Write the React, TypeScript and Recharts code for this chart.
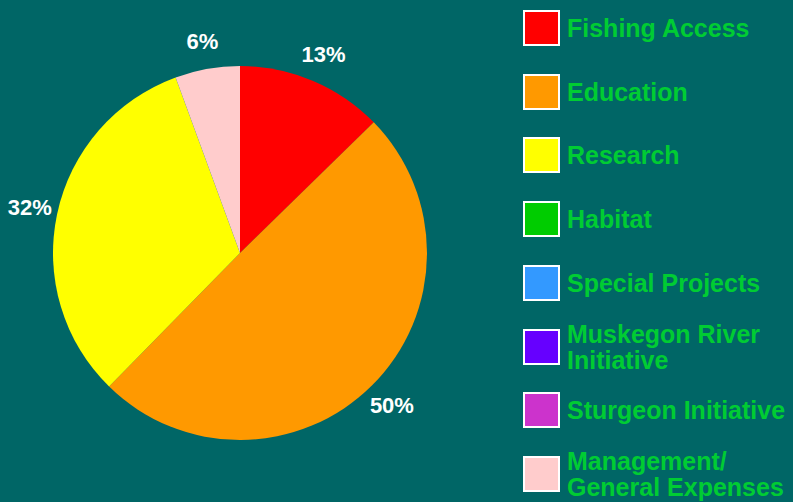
import React from "react";
import { PieChart, Pie, Cell, Legend } from "recharts";

const categories = [
  "Fishing Access",
  "Education",
  "Research",
  "Habitat",
  "Special Projects",
  "Muskegon River Initiative",
  "Sturgeon Initiative",
  "Management/\u200BGeneral Expenses",
];
const shares = [12.7, 49.7, 32.1, 0, 0, 0, 0, 5.6];
const colors = ["#FF0000", "#FF9900", "#FFFF00", "#00CC00", "#3399FF", "#6600FF", "#CC33CC", "#FFCCCC"];

const data = categories.map((name, i) => ({ name, value: shares[i] }));

const BG = "#006666";
const RAD = Math.PI / 180;

const renderLabel = (props: any) => {
  const { cx, cy, midAngle, percent, value } = props;
  if (!value) return null;
  const r = 215;
  const x = cx + r * Math.cos(-midAngle * RAD);
  const y = cy + r * Math.sin(-midAngle * RAD);
  return (
    <text
      x={x}
      y={y}
      fill="#FFFFFF"
      textAnchor="middle"
      dominantBaseline="central"
      fontFamily="'Liberation Sans', Arial, sans-serif"
      fontWeight="bold"
      fontSize={22}
    >
      {`${Math.round(percent * 100)}%`}
    </text>
  );
};

const renderLegend = () => {
  return (
    <div style={{ position: "relative", width: 270 }}>
      {categories.map((name, i) => (
        <div
          key={name}
          style={{
            position: "absolute",
            left: 0,
            top: 63.7 * i,
            height: 36,
            display: "flex",
            alignItems: "center",
          }}
        >
          <div
            style={{
              width: 37,
              height: 36,
              boxSizing: "border-box",
              border: "2px solid #FFFFFF",
              background: colors[i],
              flex: "0 0 auto",
            }}
          />
          <div
            style={{
              marginLeft: 7,
              width: 228,
              color: "#00CC33",
              fontFamily: "'Liberation Sans', Arial, sans-serif",
              fontWeight: "bold",
              fontSize: 25,
              lineHeight: "26px",
            }}
          >
            {name}
          </div>
        </div>
      ))}
    </div>
  );
};

export default function App() {
  return (
    <div
      style={{
        position: "fixed",
        left: 0,
        top: 0,
        width: 793,
        height: 502,
        background: BG,
        overflow: "hidden",
      }}
    >
      <PieChart width={793} height={502} margin={{ top: 0, right: 0, bottom: 0, left: 0 }}>
        <Pie
          data={data}
          dataKey="value"
          nameKey="name"
          cx={240}
          cy={253}
          outerRadius={187}
          startAngle={90}
          endAngle={-270}
          label={renderLabel}
          labelLine={false}
          isAnimationActive={false}
          stroke="none"
        >
          {data.map((d, i) => (
            <Cell
              key={d.name}
              fill={colors[i]}
              stroke={d.value === 0 ? "#8a8a8a" : "none"}
              strokeWidth={d.value === 0 ? 1 : 0}
            />
          ))}
        </Pie>
        <Legend
          content={renderLegend}
          layout="vertical"
          align="right"
          verticalAlign="top"
          wrapperStyle={{ position: "absolute", left: 523, top: 10, width: 270, height: 490 }}
        />
      </PieChart>
    </div>
  );
}
